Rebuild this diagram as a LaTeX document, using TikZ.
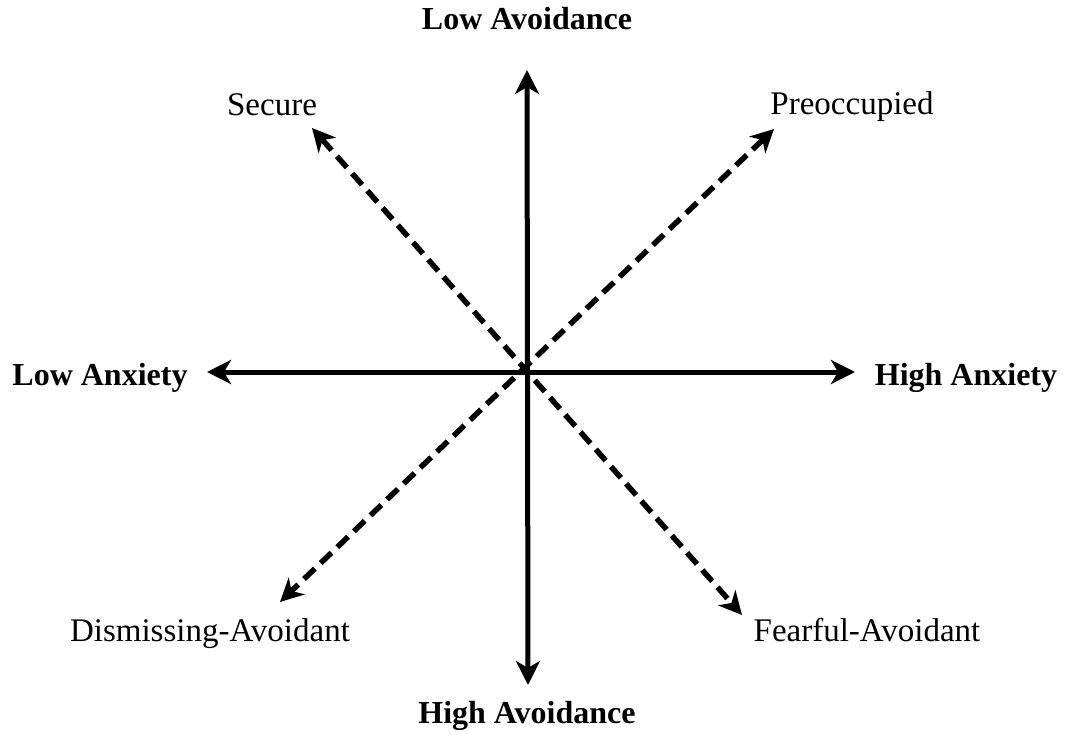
\documentclass[tikz,border=0pt]{standalone}
\usepackage{fontspec}
\setmainfont{Liberation Serif}
\usetikzlibrary{arrows.meta}
\begin{document}
\begin{tikzpicture}[x=1pt,y=-1pt,
  lbl/.style={font=\fontsize{33}{39}\selectfont, inner sep=0pt, anchor=base},
  blbl/.style={lbl, font=\fontsize{32}{38}\selectfont\bfseries},
  axis/.style={line width=5pt, {Stealth[length=24pt,width=24pt,inset=7pt]}-{Stealth[length=24pt,width=24pt,inset=7pt]}},
  diag/.style={line width=5.5pt, dash pattern=on 15pt off 8pt, {Stealth[length=23pt,width=23pt,inset=7pt]}-{Stealth[length=23pt,width=23pt,inset=7pt]}}]
\useasboundingbox (0,0) rectangle (1070,735);
% tips
\coordinate (top) at (527,70);
\coordinate (bot) at (528,685);
\coordinate (lft) at (207,372);
\coordinate (rgt) at (855,372);
\coordinate (sec) at (312,128);
\coordinate (fea) at (742,615);
\coordinate (pre) at (774,129);
\coordinate (dis) at (280,602);
% connectors
\draw[axis] (top) -- (bot);
\draw[axis] (lft) -- (rgt);
\draw[diag] (sec) -- (fea);
\draw[diag] (pre) -- (dis);
% labels
\node[blbl] (lowav) at (527,30) {Low Avoidance};
\node[blbl] (highav) at (527,723) {High Avoidance};
\node[blbl] (lowanx) at (100,385) {Low Anxiety};
\node[blbl] (highanx) at (966,385) {High Anxiety};
\node[lbl] (secure) at (272,116) {Secure};
\node[lbl] (preocc) at (852,115) {Preoccupied};
\node[lbl] (dismiss) at (210,641) {Dismissing-Avoidant};
\node[lbl] (fearful) at (867,641) {Fearful-Avoidant};
\end{tikzpicture}
\end{document}
